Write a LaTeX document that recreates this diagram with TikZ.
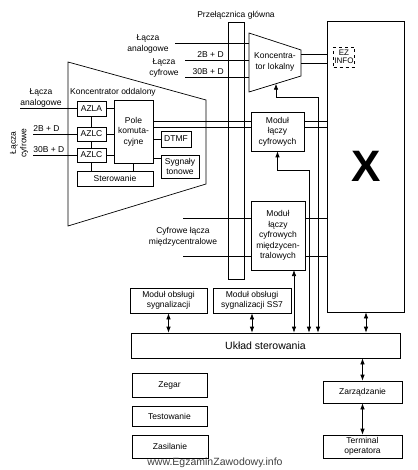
\documentclass[tikz,border=0pt]{standalone}
\usepackage{fontspec}
\setmainfont{Liberation Sans}
\usetikzlibrary{arrows.meta}

\tikzset{
    box/.style={draw, inner sep=0pt, align=center},
    lbl/.style={inner sep=0pt, align=center},
}

\begin{document}
\begin{tikzpicture}[x=1pt, y=-1pt, line width=0.7pt, font=\fontsize{8.5}{10.5}\selectfont, >={Latex[length=6pt,width=4.5pt]}]
    \useasboundingbox (0,0) rectangle (417,470);

    % przelacznica i blok X
    \node[lbl] (przt) at (236,15) {Przełącznica główna};
    \node[box, minimum width=16, minimum height=257] (bar) at (236,150.5) {};
    \node[box, minimum width=77, minimum height=291, font=\fontsize{44}{44}\selectfont\bfseries] (xbox) at (366,166.5) {X};
    \node[draw, dashed, line width=0.4pt, inner sep=0pt, minimum width=21, minimum height=20, align=center, font=\fontsize{8}{8.5}\selectfont] (ez) at (344,57) {EZ\\INFO};

    % koncentrator lokalny
    \draw (249,33) -- (301,50) -- (301,76) -- (249,92) -- cycle;
    \node[lbl] (klok) at (275,62) {Koncentra-\\tor lokalny};
    \coordinate (klw) at (249,62);
    \coordinate (klb) at (276,83.7);
    \node[lbl] (lana) at (148,44) {Łącza\\analogowe};
    \node[lbl] (lcyf) at (164,68) {Łącza\\cyfrowe};
    \node[lbl, anchor=south east] (b2) at (224,58) {2B + D};
    \node[lbl, anchor=south east] (b30) at (224,75) {30B + D};
    \coordinate (c1) at (175,43);
    \coordinate (c2) at (185,60);
    \coordinate (c3) at (185,77);
    \draw (c1) -- (c1 -| klw);
    \draw (c2) -- (c2 -| klw);
    \draw (c3) -- (c3 -| klw);
    \coordinate (k1a) at (301,54);
    \coordinate (k1b) at (301,63);
    \draw (k1a) -- (k1a -| xbox.west);
    \draw (k1b) -- (k1b -| xbox.west);

    % koncentrator oddalony
    \draw (68,62) -- (206,100) -- (206,184) -- (68,226) -- cycle;
    \node[lbl] (kodt) at (113,92) {Koncentrator oddalony};
    \node[box, minimum width=29, minimum height=15] (azla) at (91.5,108.5) {AZLA};
    \node[box, minimum width=29, minimum height=14] (azlc1) at (91.5,134) {AZLC};
    \node[box, minimum width=29, minimum height=14] (azlc2) at (91.5,155) {AZLC};
    \node[box, minimum width=39, minimum height=63] (pole) at (133.5,131.5) {Pole\\komuta-\\cyjne};
    \node[box, minimum width=76, minimum height=15] (ster) at (115,178.5) {Sterowanie};
    \node[box, minimum width=30, minimum height=16] (dtmf) at (176,139) {DTMF};
    \node[box, minimum width=38, minimum height=23] (syg) at (180,166.5) {Sygnały\\tonowe};
    \draw (azla) -- (azlc1);
    \draw (azlc1) -- (azlc2);
    \draw (azlc2) -- (azlc2 |- ster.north);
    \draw (pole.south) -- (pole.south |- ster.north);
    \draw (azla) -- (azla -| pole.west);
    \draw (azlc1) -- (azlc1 -| pole.west);
    \draw (azlc2) -- (azlc2 -| pole.west);
    \draw (dtmf) -- (dtmf -| pole.east);
    \coordinate (sy) at (161,158);
    \draw (sy) -- (sy -| pole.east);

    \node[lbl] (lana2) at (41,98) {Łącza\\analogowe};
    \draw (lana2.south west |- azla) -- (azla);
    \node[lbl, anchor=south west] (b2l) at (33,132) {2B + D};
    \draw (b2l.south west |- azlc1) -- (azlc1);
    \node[lbl, anchor=south west] (b30l) at (33,153) {30B + D};
    \draw (b30l.south west |- azlc2) -- (azlc2);
    \node[lbl, rotate=90] (lcyf2) at (19,143) {Łącza\\cyfrowe};

    % moduly laczy
    \node[box, minimum width=53, minimum height=39] (mlc) at (277.5,131.5) {Moduł\\łączy\\cyfrowych};
    \node[box, minimum width=54, minimum height=69] (mlm) at (278,235.5) {Moduł\\łączy\\cyfrowych\\międzycen-\\tralowych};
    \coordinate (p1) at (153,121);
    \coordinate (p2) at (153,127);
    \draw (p1) -- (p1 -| mlc.west);
    \draw (p2) -- (p2 -| mlc.west);
    \draw (p1 -| mlc.east) -- (p1 -| xbox.west);
    \draw (p2 -| mlc.east) -- (p2 -| xbox.west);
    \node[lbl] (cmt) at (183,237) {Cyfrowe łącza\\międzycentralowe};
    \coordinate (d1) at (183,218);
    \coordinate (d2) at (183,256);
    \draw (d1) -- (d1 -| mlm.west);
    \draw (d2) -- (d2 -| mlm.west);
    \draw (d1 -| mlm.east) -- (d1 -| xbox.west);
    \draw (d2 -| mlm.east) -- (d2 -| xbox.west);

    % sterowanie
    \node[box, minimum width=77, minimum height=25] (msyg) at (168.5,300.5) {Moduł obsługi\\sygnalizacji};
    \node[box, minimum width=78, minimum height=25] (mss7) at (252,300.5) {Moduł obsługi\\sygnalizacji SS7};
    \node[box, minimum width=269, minimum height=25, font=\fontsize{10.5}{12}\selectfont] (uklad) at (265.5,345.5) {Układ sterowania};
    \node[box, minimum width=75, minimum height=24] (zegar) at (169.5,385) {Zegar};
    \node[box, minimum width=75, minimum height=20] (test) at (169.5,416) {Testowanie};
    \node[box, minimum width=76, minimum height=23] (zasil) at (170,446.5) {Zasilanie};
    \node[box, minimum width=79, minimum height=22] (zarz) at (362.5,392) {Zarządzanie};
    \node[box, minimum width=79, minimum height=23] (term) at (362.5,446.5) {Terminal\\operatora};

    \draw[<->] (msyg) -- (msyg |- uklad.north);
    \draw[<->] (mss7) -- (mss7 |- uklad.north);
    \coordinate (mm) at (294,270);
    \draw[<->] (mm) -- (mm |- uklad.north);
    \draw[<->] (xbox.south) -- (xbox.south |- uklad.north);
    \coordinate (k1) at (318,97);
    \draw[<->] (klb) |- (k1) -- (k1 |- uklad.north);
    \coordinate (k2) at (309,170);
    \draw[<->] (mlc.south) |- (k2) -- (k2 |- uklad.north);
    \draw[<->] (uklad.south -| zarz) -- (zarz);
    \draw[<->] (zarz) -- (term);

    \node[lbl, font=\fontsize{10.5}{12}\selectfont, text=black!75] (www) at (215,463) {www.EgzaminZawodowy.info};
\end{tikzpicture}
\end{document}
